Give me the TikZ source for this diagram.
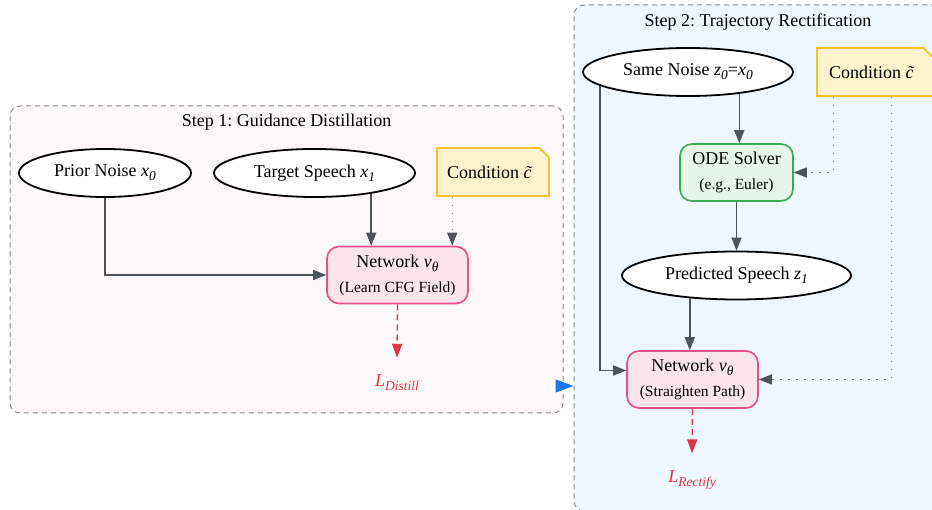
\documentclass[tikz,border=0pt]{standalone}
\usepackage{fontspec}
\setmainfont{Liberation Serif}
\usetikzlibrary{shapes.geometric,shapes.misc,arrows.meta}
\definecolor{boxgray}{HTML}{8A8A8A}
\definecolor{stepone}{HTML}{FCF8FA}
\definecolor{steptwo}{HTML}{EEF6FE}
\definecolor{edgegray}{HTML}{4D535B}
\definecolor{dotgray}{HTML}{7A7F86}
\definecolor{notefill}{HTML}{FFF2CC}
\definecolor{noteline}{HTML}{F8C130}
\definecolor{netfill}{HTML}{FCE4EC}
\definecolor{netline}{HTML}{E5508A}
\definecolor{odefill}{HTML}{E6F4EA}
\definecolor{odeline}{HTML}{3AAA4E}
\definecolor{lossred}{HTML}{DC3545}
\definecolor{linkblue}{HTML}{1877F2}
\newcommand{\lowidx}[1]{\raisebox{-0.5ex}{\fontsize{13.5}{14}\selectfont\itshape #1}}
\newcommand{\smalltext}{\fontsize{15.5}{18}\selectfont}
\frenchspacing

\begin{document}
\begin{tikzpicture}[x=1pt, y=-1pt,
  cluster/.style={draw=boxgray, line width=1pt, dash pattern=on 5pt off 4pt,
    rounded corners=10pt, inner sep=0pt},
  title/.style={font=\fontsize{18}{20}\selectfont},
  terminal/.style={ellipse, draw=black, line width=1.8pt, fill=white, inner sep=0pt,
    minimum height=48, font=\fontsize{18}{20}\selectfont},
  note/.style={chamfered rectangle, chamfered rectangle corners=north east,
    chamfered rectangle xsep=9pt, draw=noteline, line width=1.6pt, fill=notefill,
    inner sep=0pt, minimum height=48, font=\fontsize{18}{20}\selectfont},
  netbox/.style={rectangle, rounded corners=12pt, draw=netline, fill=netfill,
    line width=1.6pt, align=center, inner sep=0pt, minimum height=57,
    font=\fontsize{18}{25}\selectfont},
  odebox/.style={netbox, draw=odeline, fill=odefill},
  loss/.style={text=lossred, inner sep=0pt, font=\fontsize{18}{20}\selectfont},
  arr/.style={draw=edgegray, line width=1.5pt, -{Triangle[length=13pt,width=10pt]}},
  dotarr/.style={draw=dotgray, line width=1.2pt, dash pattern=on 1.5pt off 6.5pt,
    -{Triangle[length=13pt,width=10pt,color=edgegray]}},
  lossarr/.style={draw=lossred, line width=1.4pt, dash pattern=on 6pt off 4pt,
    -{Triangle[length=14pt,width=10pt]}},
  link/.style={draw=linkblue, fill=linkblue, line width=1pt,
    -{Triangle[length=18pt,width=13pt]}}]
\useasboundingbox (0,0) rectangle (932,510);
\clip (0,0) rectangle (932,510);

% the two steps
\node[cluster, fill=stepone, minimum width=553, minimum height=307] (step1) at (286.5,259.5) {};
\node[cluster, fill=steptwo, minimum width=372, minimum height=506] (step2) at (760,258) {};
\node[title] (title1) at (286.5,122) {Step 1: Guidance Distillation};
\node[title] (title2) at (758,22) {Step 2: Trajectory Rectification};

% step 1
\node[terminal, minimum width=172] (prior) at (105,173) {Prior Noise \textit{x}\lowidx{0}};
\node[terminal, minimum width=201] (target) at (314.5,173) {Target Speech \textit{x}\lowidx{1}};
\node[note, minimum width=112] (cond1) at (493,172) {Condition \textit{\~c}};
\node[netbox, minimum width=141] (net1) at (397.5,275)
  {Network \textit{v}\lowidx{θ}\\{\smalltext (Learn CFG Field)}};
\node[loss] (loss1) at (397,383) {\textit{L}\lowidx{Distill}};

\draw[arr] (prior.south) |- (net1.west);
\draw[arr] (target.-20) -- (target.-20 |- net1.north);
\draw[dotarr] ([xshift=16pt]cond1.south west) -- ([xshift=16pt]cond1.south west |- net1.north);
\draw[lossarr] (net1.south) -- ([yshift=17pt]loss1.north);

% step 2
\node[terminal, minimum width=210] (same) at (688,72) {Same Noise \textit{z}\lowidx{0}=\textit{x}\lowidx{0}};
\node[note, minimum width=116] (cond2) at (875,72) {Condition \textit{\~c}};
\node[odebox, minimum width=113] (ode) at (736.5,172.5)
  {ODE Solver\\{\smalltext (e.g., Euler)}};
\node[terminal, minimum width=229] (pred) at (736.5,275.5) {Predicted Speech \textit{z}\lowidx{1}};
\node[netbox, minimum width=131] (net2) at (692.5,379.5)
  {Network \textit{v}\lowidx{θ}\\{\smalltext (Straighten Path)}};
\node[loss] (loss2) at (692,480) {\textit{L}\lowidx{Rectify}};

\draw[arr] (same.-23) -- (same.-23 |- ode.north);
\draw[arr] (ode.south) -- (pred.north);
\draw[arr] (pred.-154) -- (pred.-154 |- net2.north);
\draw[arr] (same.189) |- ([yshift=9pt]net2.west);
\draw[dotarr] ([xshift=17pt]cond2.south west) |- (ode.east);
\draw[dotarr] ([xshift=75pt]cond2.south west) |- (net2.east);
\draw[lossarr] (net2.south) -- ([yshift=17pt]loss2.north);

% step 1 to step 2
\draw[link] ([xshift=-8pt,yshift=-126.5pt]step1.east) -- ([yshift=-126.5pt]step1.east -| step2.west);
\end{tikzpicture}
\end{document}
